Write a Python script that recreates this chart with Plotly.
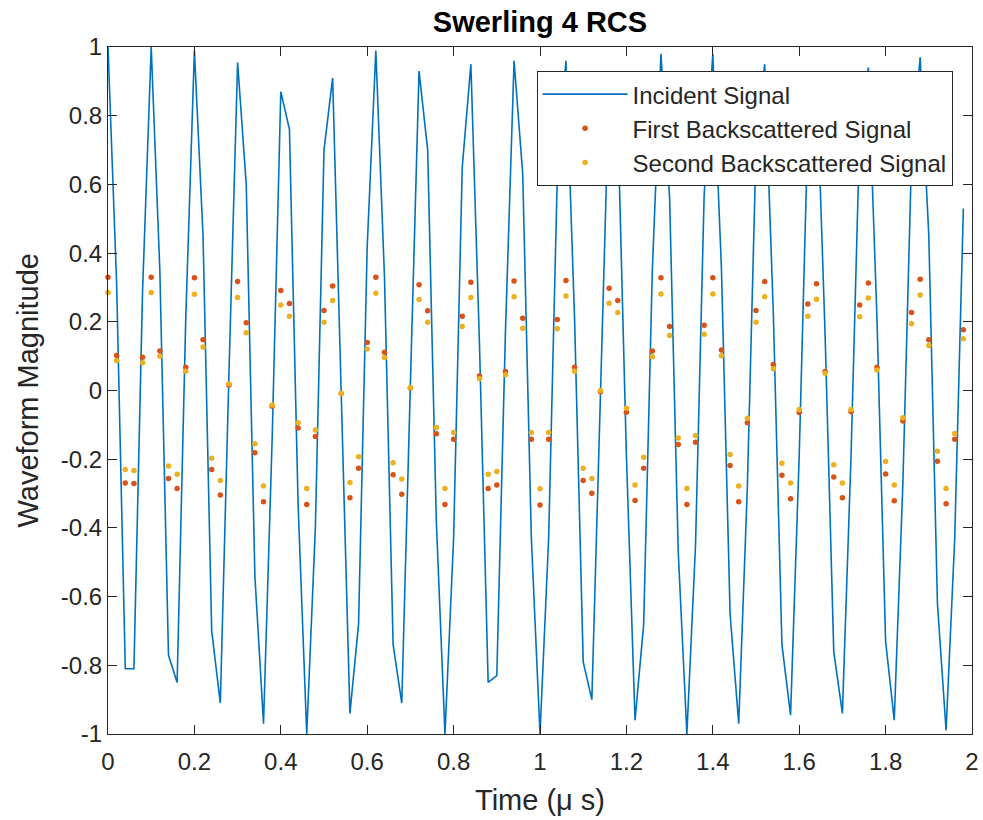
import plotly.graph_objects as go

# Time samples (microseconds)
time_us = [0.00, 0.02, 0.04, 0.06, 0.08, 0.10, 0.12, 0.14, 0.16, 0.18,
           0.20, 0.22, 0.24, 0.26, 0.28, 0.30, 0.32, 0.34, 0.36, 0.38,
           0.40, 0.42, 0.44, 0.46, 0.48, 0.50, 0.52, 0.54, 0.56, 0.58,
           0.60, 0.62, 0.64, 0.66, 0.68, 0.70, 0.72, 0.74, 0.76, 0.78,
           0.80, 0.82, 0.84, 0.86, 0.88, 0.90, 0.92, 0.94, 0.96, 0.98,
           1.00, 1.02, 1.04, 1.06, 1.08, 1.10, 1.12, 1.14, 1.16, 1.18,
           1.20, 1.22, 1.24, 1.26, 1.28, 1.30, 1.32, 1.34, 1.36, 1.38,
           1.40, 1.42, 1.44, 1.46, 1.48, 1.50, 1.52, 1.54, 1.56, 1.58,
           1.60, 1.62, 1.64, 1.66, 1.68, 1.70, 1.72, 1.74, 1.76, 1.78,
           1.80, 1.82, 1.84, 1.86, 1.88, 1.90, 1.92, 1.94, 1.96, 1.98]

incident = [1.00, 0.31, -0.81, -0.81, 0.29, 1.00, 0.35, -0.77, -0.85, 0.21,
            0.99, 0.45, -0.70, -0.91, 0.05, 0.955, 0.60, -0.54, -0.97, -0.14,
            0.87, 0.76, -0.33, -1.00, -0.40, 0.70, 0.91, -0.03, -0.94, -0.68,
            0.42, 0.99, 0.33, -0.74, -0.91, 0.02, 0.93, 0.70, -0.38, -1.00,
            -0.43, 0.65, 0.95, 0.13, -0.85, -0.83, 0.17, 0.96, 0.63, -0.43,
            -1.00, -0.43, 0.62, 0.96, 0.21, -0.79, -0.90, -0.01, 0.89, 0.79,
            -0.19, -0.96, -0.68, 0.35, 0.98, 0.56, -0.47, -1.00, -0.45, 0.57,
            0.98, 0.355, -0.65, -0.97, -0.28, 0.70, 0.95, 0.23, -0.74, -0.945,
            -0.19, 0.76, 0.93, 0.16, -0.76, -0.94, -0.19, 0.75, 0.94, 0.21,
            -0.73, -0.96, -0.27, 0.68, 0.97, 0.45, -0.62, -0.99, -0.43, 0.53]

first_backscatter = [0.330, 0.102, -0.269, -0.271, 0.097, 0.330, 0.115, -0.256, -0.285, 0.068,
                     0.328, 0.148, -0.230, -0.304, 0.016, 0.317, 0.197, -0.181, -0.324, -0.046,
                     0.291, 0.253, -0.109, -0.332, -0.134, 0.233, 0.304, -0.009, -0.312, -0.226,
                     0.140, 0.330, 0.111, -0.245, -0.302, 0.007, 0.308, 0.232, -0.126, -0.332,
                     -0.142, 0.216, 0.315, 0.042, -0.285, -0.275, 0.055, 0.319, 0.210, -0.142,
                     -0.333, -0.142, 0.207, 0.320, 0.068, -0.262, -0.299, -0.004, 0.298, 0.262,
                     -0.063, -0.320, -0.226, 0.115, 0.328, 0.186, -0.157, -0.332, -0.151, 0.190,
                     0.328, 0.118, -0.218, -0.324, -0.094, 0.233, 0.317, 0.076, -0.247, -0.315,
                     -0.064, 0.252, 0.311, 0.055, -0.252, -0.312, -0.062, 0.249, 0.313, 0.068,
                     -0.243, -0.321, -0.089, 0.227, 0.324, 0.148, -0.206, -0.330, -0.142, 0.177]

second_backscatter = [0.285, 0.087, -0.230, -0.233, 0.081, 0.285, 0.100, -0.220, -0.244, 0.056,
                      0.280, 0.127, -0.197, -0.262, 0.020, 0.271, 0.168, -0.155, -0.278, -0.042,
                      0.249, 0.216, -0.094, -0.285, -0.115, 0.199, 0.262, -0.009, -0.268, -0.193,
                      0.121, 0.283, 0.096, -0.210, -0.258, 0.009, 0.265, 0.199, -0.108, -0.285,
                      -0.122, 0.186, 0.271, 0.034, -0.244, -0.236, 0.046, 0.273, 0.181, -0.122,
                      -0.286, -0.122, 0.180, 0.275, 0.056, -0.226, -0.256, 0.000, 0.254, 0.227,
                      -0.052, -0.275, -0.194, 0.098, 0.281, 0.160, -0.138, -0.285, -0.131, 0.164,
                      0.281, 0.101, -0.186, -0.278, -0.081, 0.199, 0.273, 0.063, -0.212, -0.269,
                      -0.055, 0.216, 0.266, 0.050, -0.216, -0.269, -0.055, 0.215, 0.269, 0.060,
                      -0.207, -0.275, -0.079, 0.194, 0.278, 0.131, -0.177, -0.285, -0.125, 0.151]

x_ticks = [0, 0.2, 0.4, 0.6, 0.8, 1.0, 1.2, 1.4, 1.6, 1.8, 2.0]
x_tick_labels = ["0", "0.2", "0.4", "0.6", "0.8", "1", "1.2", "1.4", "1.6", "1.8", "2"]
y_ticks = [-1, -0.8, -0.6, -0.4, -0.2, 0, 0.2, 0.4, 0.6, 0.8, 1]
y_tick_labels = ["-1", "-0.8", "-0.6", "-0.4", "-0.2", "0", "0.2", "0.4", "0.6", "0.8", "1"]

FONT = "Liberation Sans, Arial, Helvetica, sans-serif"
AX = "#262626"

fig = go.Figure()
fig.add_trace(go.Scatter(x=time_us, y=incident, mode="lines", name="Incident Signal",
                         line=dict(color="#0072BD", width=1.6)))
fig.add_trace(go.Scatter(x=time_us, y=first_backscatter, mode="markers",
                         name="First Backscattered Signal", cliponaxis=False,
                         marker=dict(color="#D95319", size=5.5, symbol="circle")))
fig.add_trace(go.Scatter(x=time_us, y=second_backscatter, mode="markers",
                         name="Second Backscattered Signal", cliponaxis=False,
                         marker=dict(color="#EDB120", size=5.5, symbol="circle")))

axis_common = dict(showgrid=False, zeroline=False, ticks="inside", ticklen=9,
                   tickcolor=AX, linecolor=AX, linewidth=1, mirror="ticks",
                   showline=True, automargin=False,
                   tickfont=dict(family=FONT, size=24, color=AX))

fig.update_layout(
    width=983, height=820,
    margin=dict(l=108, r=11, t=47, b=86, autoexpand=False),
    paper_bgcolor="white", plot_bgcolor="white",
    xaxis=dict(range=[0, 2], tickvals=x_ticks, ticktext=x_tick_labels,
               ticklabelstandoff=6, **axis_common),
    yaxis=dict(range=[-1, 1], tickvals=y_ticks, ticktext=y_tick_labels, **axis_common),
    title=dict(text="<b>Swerling 4 RCS</b>", x=0.5, xref="paper", xanchor="center",
               y=1 - 22 / 820, yref="container", yanchor="middle",
               font=dict(family=FONT, size=29, color="black")),
    legend=dict(x=0.496, y=0.965, xanchor="left", yanchor="top",
                bgcolor="white", bordercolor=AX, borderwidth=1,
                font=dict(family=FONT, size=24, color=AX), itemwidth=85,
                tracegroupgap=0),
    showlegend=True,
)

fig.add_annotation(text="Time (μ s)", xref="paper", yref="paper", x=0.5, y=-(800 - 734) / 687,
                   xanchor="center", yanchor="middle", showarrow=False,
                   font=dict(family=FONT, size=29, color=AX))
fig.add_annotation(text="Waveform Magnitude", xref="paper", yref="paper",
                   x=-(108 - 27) / 864.5, y=0.5, textangle=-90,
                   xanchor="center", yanchor="middle", showarrow=False,
                   font=dict(family=FONT, size=29, color=AX))

fig.write_html("out.html", config={"displayModeBar": False},
               post_script="document.body.style.margin='0';document.body.style.overflow='hidden';")
